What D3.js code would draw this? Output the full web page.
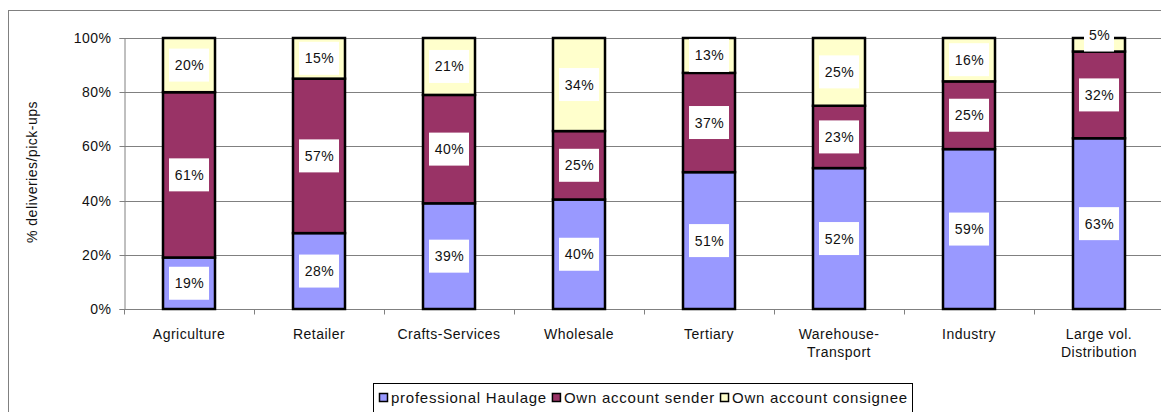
<!DOCTYPE html>
<html><head><meta charset="utf-8">
<script src="https://cdn.jsdelivr.net/npm/d3@7"></script>
<style>
html,body{margin:0;padding:0;background:#fff;}
svg{display:block;font-family:"Liberation Sans",Arial,sans-serif;}
text{letter-spacing:0.5px;}
text.leg{letter-spacing:0.75px;}
</style></head>
<body>
<svg id="chart" width="1161" height="412"></svg>
<script>
const categories = ["Agriculture","Retailer","Crafts-Services","Wholesale","Tertiary","Warehouse-\nTransport","Industry","Large vol.\nDistribution"];
const seriesNames = ["professional Haulage","Own account sender","Own account consignee"];
const professionalHaulage = [19,28,39,40,51,52,59,63];
const ownAccountSender = [61,57,40,25,37,23,25,32];
const ownAccountConsignee = [20,15,21,34,13,25,16,5];
const yTicks = [0,0.2,0.4,0.6,0.8,1.0];
const colors = ["#9999FF","#993366","#FFFFCC"];

const svg = d3.select("#chart");
const m = {left:124};
const plotRight = 124 + 130*8;

// outer frame
svg.append("rect").attr("x",8.5).attr("y",10.5).attr("width",1200).attr("height",500)
  .attr("fill","none").attr("stroke","#808080").attr("stroke-width",1);

const xb = d3.scaleBand().domain(categories).range([m.left, plotRight]);
const y = d3.scaleLinear().domain([0,1]).range([309, 38]);

const table = categories.map((c,i)=>({cat:c, s0:professionalHaulage[i], s1:ownAccountSender[i], s2:ownAccountConsignee[i]}));
const stack = d3.stack().keys(["s0","s1","s2"]).offset(d3.stackOffsetExpand);
const series = stack(table);

// gridlines
svg.append("g").selectAll("line").data(yTicks.filter(t=>t>0)).join("line")
  .attr("x1",m.left).attr("x2",plotRight)
  .attr("y1",d=>Math.round(y(d))+0.5).attr("y2",d=>Math.round(y(d))+0.5)
  .attr("stroke","#808080").attr("stroke-width",1);

// y axis
const yAxis = d3.axisLeft(y).tickValues(yTicks).tickFormat(d=>Math.round(d*100)+"%").tickSize(5).tickPadding(8);
const gy = svg.append("g").attr("transform",`translate(${m.left+0.5},0)`).call(yAxis);
gy.select(".domain").attr("stroke","#808080");
gy.selectAll(".tick line").attr("stroke","#808080");
gy.selectAll(".tick").attr("transform",d=>`translate(0,${Math.round(y(d))+0.5})`);
gy.selectAll("text").attr("font-size","14px").attr("fill","#111").attr("font-family","Liberation Sans, Arial, sans-serif");

// x axis
const gx = svg.append("g").attr("transform",`translate(0,${Math.round(y(0))+0.5})`);
gx.append("line").attr("x1",m.left).attr("x2",plotRight).attr("stroke","#808080");
gx.selectAll("line.tk").data(d3.range(categories.length+1)).join("line").attr("class","tk")
  .attr("x1",i=>m.left+i*xb.step()+0.5).attr("x2",i=>m.left+i*xb.step()+0.5)
  .attr("y1",0).attr("y2",5).attr("stroke","#808080");
const xl = gx.selectAll("text").data(categories).join("text")
  .attr("text-anchor","middle").attr("font-size","14px").attr("fill","#111")
  .attr("transform",d=>`translate(${xb(d)+xb.bandwidth()/2},29)`);
xl.selectAll("tspan").data(d=>d.split("\n")).join("tspan")
  .attr("x",0).attr("dy",(d,i)=>i===0?0:"1.3em").text(d=>d);

// bars
const bw = 52;
series.forEach((s,si)=>{
  svg.append("g").selectAll("rect").data(s).join("rect")
    .attr("x",d=>xb(d.data.cat)+xb.bandwidth()/2-bw/2)
    .attr("width",bw)
    .attr("y",d=>y(d[1]))
    .attr("height",d=>y(d[0])-y(d[1]))
    .attr("fill",colors[si]).attr("stroke","#000").attr("stroke-width",2.5);
});

// labels
const raw = [professionalHaulage, ownAccountSender, ownAccountConsignee];
const boxH = 33;
series.forEach((s,si)=>{
  const g = svg.append("g");
  s.forEach((d,ci)=>{
    const val = raw[si][ci];
    const txt = val+"%";
    const cx = xb(d.data.cat)+xb.bandwidth()/2;
    let cy = (y(d[0])+y(d[1]))/2;
    cy = Math.min(cy, y(d[0])-boxH/2);
    const bwid = txt.length===2 ? 30 : 40;
    g.append("rect").attr("x",cx-bwid/2).attr("y",cy-boxH/2).attr("width",bwid).attr("height",boxH).attr("fill","#fff");
    g.append("text").attr("x",cx+0.5).attr("y",cy).attr("dy","0.36em").attr("text-anchor","middle")
      .attr("font-size","14px").attr("fill","#111").text(txt);
  });
});

// y title
svg.append("text").attr("transform","translate(37,172) rotate(-90)").attr("text-anchor","middle")
  .attr("font-size","14px").attr("fill","#111").text("% deliveries/pick-ups");

// legend
const lg = svg.append("g");
lg.append("rect").attr("x",373.5).attr("y",383.5).attr("width",539).attr("height",40).attr("fill","#fff").attr("stroke","#000");
let lx = 379;
seriesNames.forEach((n,i)=>{
  lg.append("rect").attr("x",lx+0.5).attr("y",393.5).attr("width",8).attr("height",8).attr("fill",colors[i]).attr("stroke","#000").attr("stroke-width",1.5);
  const t = lg.append("text").attr("class","leg").attr("x",lx+12).attr("y",403).attr("font-size","15px").attr("fill","#111").text(n);
  lx += 12 + t.node().getComputedTextLength() + 5;
});
</script>
</body></html>
